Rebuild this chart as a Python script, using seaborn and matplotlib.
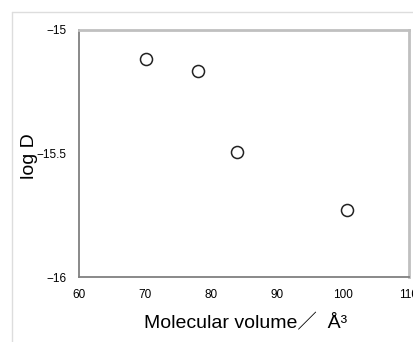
import matplotlib
matplotlib.use("Agg")
import matplotlib.pyplot as plt
import seaborn as sns
import pandas as pd
from matplotlib.lines import Line2D

mol_volume = [70.1, 78.0, 83.9, 100.6]
log_d = [-15.117, -15.166, -15.494, -15.729]
x_ticks = [60, 70, 80, 90, 100, 110]
y_ticks = [-16, -15.5, -15]
y_tick_labels = ["\u221216", "\u221215.5", "\u221215"]

sns.set_theme(style="white")
plt.rcParams['font.family'] = ['Liberation Sans', 'DejaVu Sans', 'Noto Sans CJK JP']
plt.rcParams['text.color'] = 'black'
plt.rcParams['axes.labelcolor'] = 'black'
plt.rcParams['xtick.labelcolor'] = 'black'
plt.rcParams['ytick.labelcolor'] = 'black'

W, H = 414, 342
fig = plt.figure(figsize=(W / 100, H / 100), dpi=100)
ax = fig.add_axes([79 / W, 1 - 277 / H, (409 - 79) / W, (277 - 30) / H])

df = pd.DataFrame({"x": mol_volume, "y": log_d})
sns.scatterplot(data=df, x="x", y="y", ax=ax, s=75, facecolor="white",
                edgecolor="#222222", linewidth=1.1, marker="o", zorder=3)

ax.set_xlim(60, 110)
ax.set_ylim(-16, -15)
ax.set_xticks(x_ticks)
ax.set_xticklabels([str(v) for v in x_ticks], fontsize=8.5)
ax.set_yticks(y_ticks)
ax.set_yticklabels(y_tick_labels, fontsize=8.5)
ax.tick_params(axis="x", direction="in", length=3, width=0.8, color="#999999", pad=9)
ax.tick_params(axis="y", length=0, pad=9)

ax.spines["left"].set_color("#808080")
ax.spines["bottom"].set_color("#808080")
ax.spines["left"].set_linewidth(1.3)
ax.spines["bottom"].set_linewidth(1.3)
ax.spines["top"].set_color("#c0c0c0")
ax.spines["right"].set_color("#c0c0c0")
ax.spines["top"].set_linewidth(2.0)
ax.spines["right"].set_linewidth(2.0)

ax.set_xlabel("Molecular volume\uff0f  \u00c5\u00b3", fontsize=14)
ax.set_ylabel("log D", fontsize=14)
ax.xaxis.set_label_coords(0.506, -0.186)
ax.yaxis.set_label_coords(-0.15, 0.49)
ax.xaxis.label.set_verticalalignment("center")
ax.yaxis.label.set_verticalalignment("center")

# light outer frame (left & top edges)
fig.add_artist(Line2D([12 / W, 12 / W], [0, 1 - 12 / H], transform=fig.transFigure,
                      color="#dddddd", linewidth=1.0))
fig.add_artist(Line2D([12 / W, 1], [1 - 12 / H, 1 - 12 / H], transform=fig.transFigure,
                      color="#dddddd", linewidth=1.0))

fig.savefig("out.png", dpi=100)
